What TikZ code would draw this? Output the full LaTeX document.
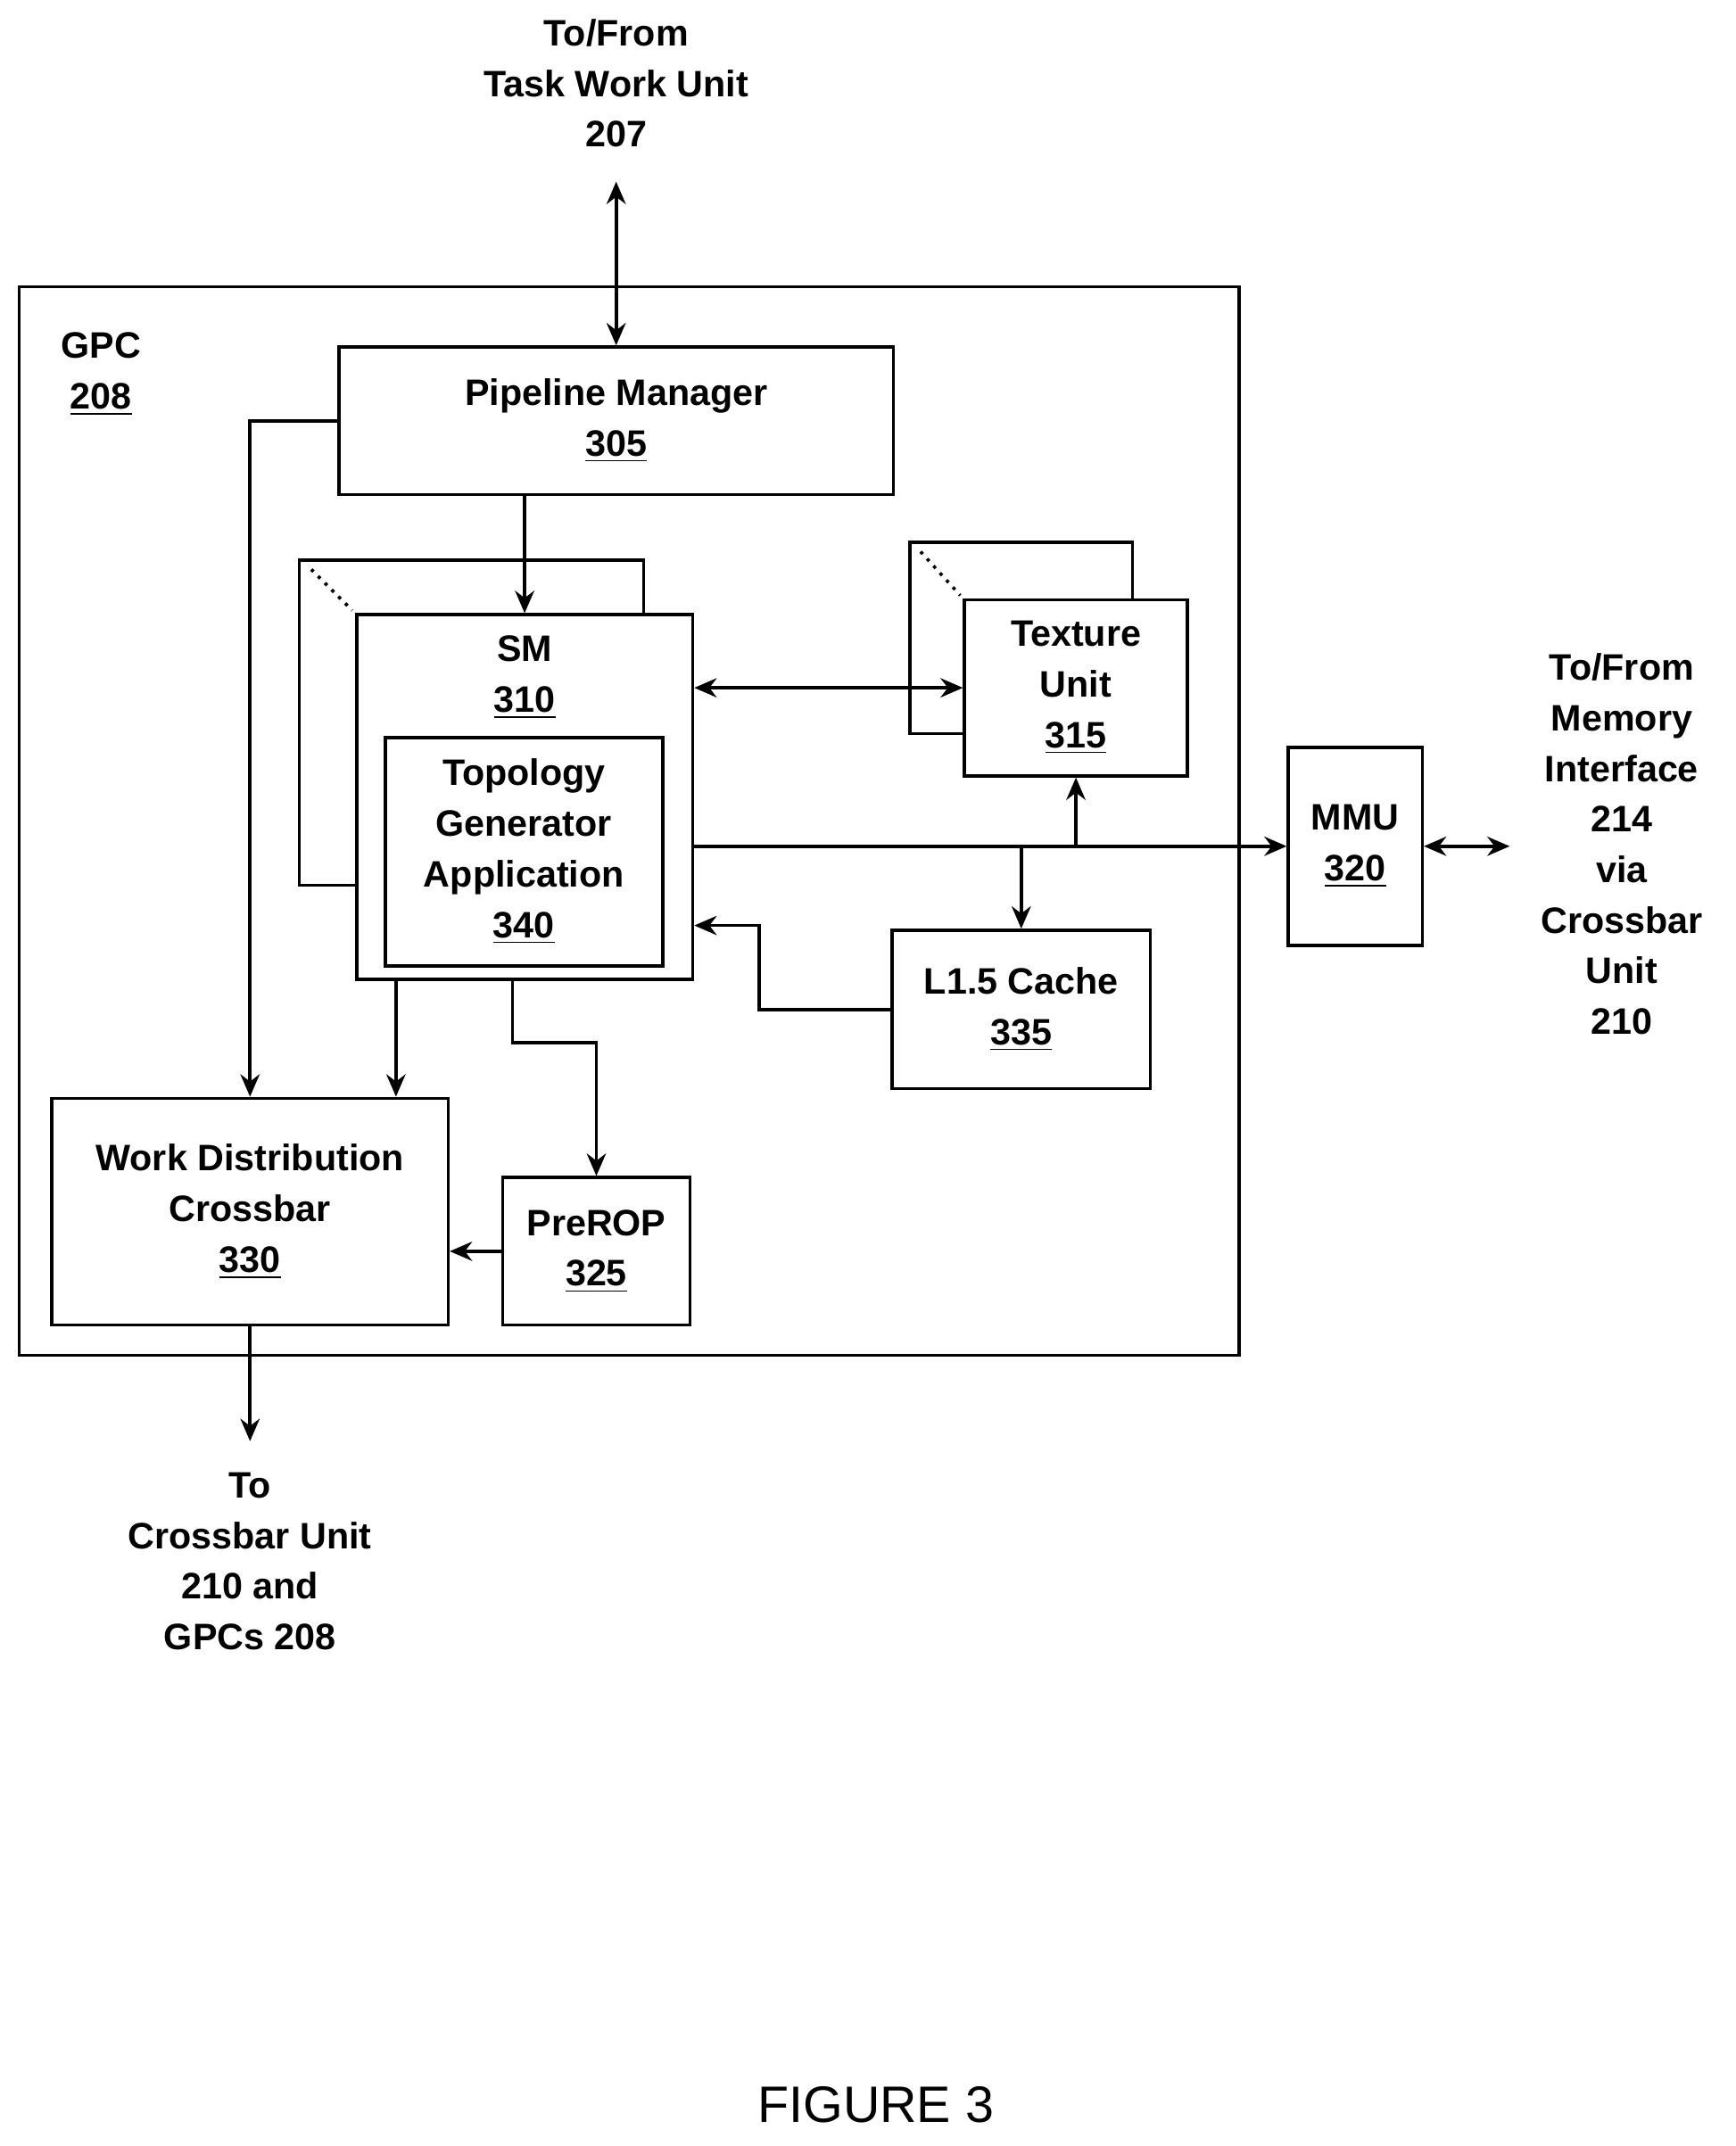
\documentclass[tikz,border=0pt]{standalone}
\usepackage{fontspec}
\setmainfont{Liberation Sans}
\usetikzlibrary{arrows.meta,positioning}
\newcommand\refnum[1]{\underline{#1}}

\begin{document}
\begin{tikzpicture}[x=0.015cm,y=-0.015cm,
	font=\fontsize{11.5}{15.8}\selectfont\bfseries,
	box/.style={rectangle, draw, line width=1pt, fill=white, inner sep=0pt, align=center},
	txt/.style={align=center, inner sep=0pt},
	arr/.style={line width=1pt, -{Stealth[length=7pt,width=6pt]}},
	dblarr/.style={line width=1pt, {Stealth[length=7pt,width=6pt]}-{Stealth[length=7pt,width=6pt]}},
	]
	\useasboundingbox (0,0) rectangle (1270,1571);
	%Nodes
	\node[box, minimum width=13.395cm, minimum height=11.73cm](gpc) at (460.5,601){};
	\node[txt](gpclabel) at (74,274){GPC\\\refnum{208}};
	\node[box, minimum width=6.09cm, minimum height=1.62cm](pm) at (451,308){Pipeline Manager\\\refnum{305}};
	\node[txt](top) at (451,61){To/From\\Task Work Unit\\207};
	\coordinate (topend) at (451,133);
	% SM stack
	\node[box, minimum width=3.78cm, minimum height=3.57cm](smback) at (345,529){};
	\node[box, minimum width=3.69cm, minimum height=4.005cm](sm) at (384,583.5){};
	\node[txt](smlabel) at (384,496){SM\\\refnum{310}};
	\draw[line width=1pt, dotted] (smback.north west) ++(10,8) -- ++(30,30);
	\node[box, minimum width=3.045cm, minimum height=2.505cm](topo) at (383.5,623.5){Topology\\Generator\\Application\\\refnum{340}};
	% Texture stack
	\node[box, minimum width=2.445cm, minimum height=2.1cm](texback) at (747.5,467){};
	\node[box, minimum width=2.445cm, minimum height=1.935cm](texture) at (787.5,503.5){Texture\\Unit\\\refnum{315}};
	\draw[line width=1pt, dotted] (texback.north west) ++(9,8) -- ++(29,32);
	\node[box, minimum width=1.47cm, minimum height=2.175cm](mmu) at (992,619.5){MMU\\\refnum{320}};
	\node[txt](mem) at (1187,618){To/From\\Memory\\Interface\\214\\via\\Crossbar\\Unit\\210};
	\coordinate (memend) at (1105,619.5);
	\node[box, minimum width=2.835cm, minimum height=1.74cm](l15) at (747.5,739){L1.5 Cache\\\refnum{335}};
	\node[box, minimum width=4.35cm, minimum height=2.49cm](wdc) at (183,887){Work Distribution\\Crossbar\\\refnum{330}};
	\node[box, minimum width=2.055cm, minimum height=1.62cm](prerop) at (436.5,916){PreROP\\\refnum{325}};
	\node[txt](bot) at (183,1143){To\\Crossbar Unit\\210 and\\GPCs 208};
	\coordinate (botend) at (183,1055);
	\node[txt, font=\fontsize{16}{19}\selectfont](fig) at (641,1541){FIGURE 3};

	%Lines
	\draw[dblarr] (topend) -- (pm.north);
	\draw[arr] (pm.south -| sm.north) -- (sm.north);
	\draw[arr] (pm.west) -| (wdc.north);
	\draw[dblarr] (texture.west -| sm.east) -- (texture.west);
	\draw[arr] (mmu.west -| sm.east) -- (mmu.west);
	\draw[arr] (texture.south |- mmu.west) -- (texture.south);
	\draw[arr] (l15.north |- mmu.west) -- (l15.north);
	\draw[dblarr] (mmu.east) -- (memend);
	\draw[arr] (l15.west) -- ++(-96,0) |- ([yshift=-1.41cm]sm.east);
	\draw[arr] ([xshift=0.45cm]sm.south west) -- ([xshift=0.45cm]sm.south west |- wdc.north);
	\draw[arr] ([xshift=-0.135cm]sm.south) -- ++(0,45) -| (prerop.north);
	\draw[arr] (prerop.west) -- (prerop.west -| wdc.east);
	\draw[arr] (wdc.south) -- (botend);
\end{tikzpicture}
\end{document}
